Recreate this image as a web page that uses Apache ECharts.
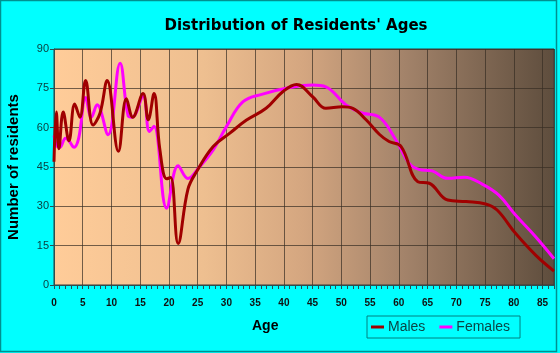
<!DOCTYPE html>
<html>
<head>
<meta charset="utf-8">
<script src="https://cdn.jsdelivr.net/npm/echarts@6/dist/echarts.min.js"></script>
<style>
  html, body { margin: 0; padding: 0; background: #00ffff; }
  #main { width: 560px; height: 353px; }
</style>
</head>
<body>
<div id="main"></div>
<script>
// values
var maleAges = [0, 0.4, 0.85, 1.6, 2.6, 3.6, 4.5, 5.5, 6.8, 8.0, 9.25, 11.2, 12.6, 13.7, 15.5, 16.4, 17.4, 18.4,
  19.6, 20.3, 21.6, 23.3, 24.8, 27.7, 30.6, 33.5, 36.9, 39.8, 42.2, 45, 47.3, 50.2, 52, 54.3, 56.6, 58.3,
  60.4, 63.3, 65.3, 68.5, 71.7, 75.1, 77.1, 80.3, 83.8, 87];
var maleValues = [47, 66, 52, 66, 55, 69, 64, 78, 61, 65.5, 78, 51, 71, 64, 73, 63, 73, 52,
  40.5, 41, 15.8, 36.5, 43.2, 52.8, 57.9, 62.9, 67.4, 73.7, 76.5, 71.8, 67.4, 68, 67.4, 63, 57.5, 54.7,
  52.8, 39.4, 38.8, 32.4, 31.8, 30.9, 28.6, 19.7, 11.4, 5.3];

var femaleAges = [0, 0.5, 1.0, 2.0, 2.6, 3.5, 4.3, 5.5, 6.5, 7.5, 9.4, 11.5, 12.9, 13.6, 15.5, 16.6, 17.4,
  19.6, 21.6, 23.3, 25.3, 27.7, 30, 32.9, 36.3, 40.4, 45, 47.3, 50.8, 53.4, 56.6, 59.5, 61.8, 63.5,
  65.8, 68.5, 71.4, 74.5, 77.4, 80.3, 83.8, 87];
var femaleValues = [57, 53, 52.5, 56, 55, 52.5, 56, 71.5, 64, 68.7, 57.3, 84.6, 64.5, 64, 72, 58.5, 60.5,
  29.3, 45.5, 40.6, 45, 51.5, 60.4, 69.9, 72.8, 75, 76.3, 75.6, 68.7, 65.7, 64, 55.3, 46.4, 44.1,
  43.5, 40.7, 41.1, 38.5, 34.3, 26.7, 18.4, 10];

var xTicks = [0, 5, 10, 15, 20, 25, 30, 35, 40, 45, 50, 55, 60, 65, 70, 75, 80, 85];
var yTicks = [0, 15, 30, 45, 60, 75, 90];

function pairs(xs, ys) {
  return xs.map(function (x, i) { return [x, ys[i]]; });
}

var myChart = echarts.init(document.getElementById('main'));
var option = {
  backgroundColor: '#00ffff',
  animation: false,
  title: {
    text: "Distribution of Residents' Ages",
    left: 291,
    top: 14,
    textAlign: 'center',
    textStyle: {
      fontFamily: 'DejaVu Sans, sans-serif',
      fontSize: 15,
      fontWeight: 'bold',
      color: '#000'
    }
  },
  legend: {
    data: ['Males', 'Females'],
    left: 367,
    top: 316,
    width: 160,
    padding: [4, 10, 4, 4],
    borderColor: '#008080',
    borderWidth: 1,
    itemGap: 14,
    itemWidth: 13,
    itemHeight: 3,
    icon: 'rect',
    textStyle: {
      fontFamily: 'Liberation Sans, Arial, sans-serif',
      fontSize: 14,
      color: '#0a4646',
      padding: [0, 0, 0, -1]
    }
  },
  grid: {
    left: 54,
    right: 6,
    top: 49,
    bottom: 68,
    outerBoundsMode: 'none',
    show: true,
    borderColor: '#3a3a3a',
    borderWidth: 1,
    backgroundColor: {
      type: 'linear', x: 0, y: 0, x2: 1, y2: 0,
      colorStops: [
        { offset: 0, color: '#ffcc99' },
        { offset: 0.3, color: '#eebf90' },
        { offset: 0.5, color: '#d4a680' },
        { offset: 0.7, color: '#a3836a' },
        { offset: 1, color: '#5e4d3d' }
      ]
    }
  },
  xAxis: {
    type: 'value',
    min: 0,
    max: 87,
    interval: 5,
    axisLine: { show: true, lineStyle: { color: '#2a5050', width: 1 } },
    axisTick: { show: true, length: 4, lineStyle: { color: '#2a5050' } },
    minorTick: { show: true, splitNumber: 5, length: 4, lineStyle: { color: '#2a5050' } },
    splitLine: { show: true, lineStyle: { color: 'rgba(55,45,35,0.7)', width: 1 } },
    axisLabel: {
      showMaxLabel: false,
      margin: 13,
      fontFamily: 'Liberation Sans, Arial, sans-serif',
      fontSize: 10,
      fontWeight: 'bold',
      color: '#111',
      formatter: function (v) { return xTicks.indexOf(v) >= 0 ? String(v) : ''; }
    }
  },
  yAxis: {
    type: 'value',
    min: 0,
    max: 90,
    interval: 15,
    name: 'Number of residents',
    nameLocation: 'middle',
    nameGap: 33,
    nameTextStyle: {
      fontFamily: 'Liberation Sans, Arial, sans-serif',
      fontSize: 15,
      fontWeight: 'bold',
      color: '#000'
    },
    axisLine: { show: true, lineStyle: { color: '#2a5050', width: 1 } },
    axisTick: { show: true, length: 4, lineStyle: { color: '#2a5050' } },
    splitLine: { show: true, lineStyle: { color: 'rgba(55,45,35,0.7)', width: 1 } },
    axisLabel: {
      margin: 5,
      fontFamily: 'Liberation Sans, Arial, sans-serif',
      fontSize: 11,
      color: '#0a4040',
      formatter: function (v) { return yTicks.indexOf(v) >= 0 ? String(v) : ''; }
    }
  },
  graphic: [
    {
      type: 'text',
      left: 252,
      top: 319,
      style: {
        text: 'Age',
        font: 'bold 14px "Liberation Sans", Arial, sans-serif',
        fill: '#000'
      }
    },
    {
      type: 'rect',
      shape: { x: 0.5, y: 0.5, width: 556, height: 351 },
      style: { fill: 'none', stroke: '#009090', lineWidth: 1.5 },
      silent: true
    }
  ],
  series: [
    {
      name: 'Females',
      type: 'line',
      data: pairs(femaleAges, femaleValues),
      smooth: 0.4,
      showSymbol: false,
      z: 2,
      lineStyle: { color: '#ff00ff', width: 3 },
      itemStyle: { color: '#ff00ff' }
    },
    {
      name: 'Males',
      type: 'line',
      data: pairs(maleAges, maleValues),
      smooth: 0.4,
      showSymbol: false,
      z: 3,
      lineStyle: { color: '#a00000', width: 3 },
      itemStyle: { color: '#a00000' }
    }
  ]
};
myChart.setOption(option);
</script>
</body>
</html>
